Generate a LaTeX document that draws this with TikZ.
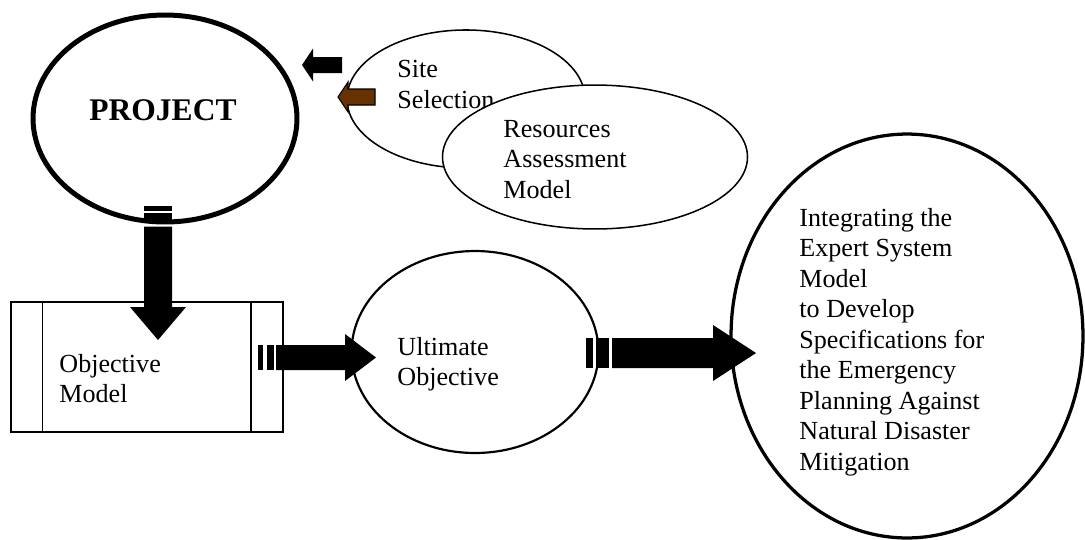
\documentclass[tikz,border=0pt]{standalone}
\usepackage{fontspec}
\setmainfont{Liberation Serif}
\usetikzlibrary{shapes.geometric}
\definecolor{brownarrow}{HTML}{663300}

\begin{document}
\begin{tikzpicture}
[x=0.46pt,y=-0.46pt,
 oval/.style={draw=black,ellipse,inner sep=0pt,fill=white},
 lbl/.style={anchor=north west,align=left,inner sep=0pt,font=\fontsize{12}{14}\selectfont},
 blk/.style={fill=black},
 brn/.style={fill=brownarrow,draw=black,line width=0.5pt}]
\useasboundingbox (0,0) rectangle (1085,539);

% project
\node[oval,line width=2.3pt,minimum width=121.4pt,minimum height=95.2pt] (proj) at (165,118.5) {};
\node[anchor=base,inner sep=0pt,font=\fontsize{14.5}{17}\selectfont\bfseries] (projtxt) at (163,120) {PROJECT};

% site and resources
\node[oval,line width=0.7pt,minimum width=109.5pt,minimum height=63.5pt] (site) at (466,99) {};
\node[lbl] (sitetxt) at (397,60) {Site\\Selection};
\node[oval,line width=0.7pt,minimum width=140.3pt,minimum height=66.2pt] (res) at (595,157) {};
\node[lbl] (restxt) at (503,120) {Resources\\Assessment\\Model};

\coordinate (selTip) at (302,65);
\coordinate (resTip) at (338,97);
\fill[blk] (selTip) -- ++(11,-16.5) -- ++(0,8.5) -- ++(29,0) -- ++(0,16) -- ++(-29,0) -- ++(0,8.5) -- cycle;
\filldraw[brn] (resTip) -- ++(10,-15) -- ++(0,7) -- ++(27,0) -- ++(0,16) -- ++(-27,0) -- ++(0,7) -- cycle;

% objective model
\node[draw=black,line width=0.7pt,inner sep=0pt,minimum width=125.1pt,minimum height=59.8pt] (objbox) at (147,367) {};
\draw[line width=0.7pt] (objbox.north west) ++(32,0) -- ++(0,130);
\draw[line width=0.7pt] (objbox.north east) ++(-33,0) -- ++(0,130);
\node[lbl] (objtxt) at (59,354) {Objective\\Model};

\coordinate (pjOut) at (158,205.5);
\coordinate (dnTip) at (158,340);
\fill[blk] (pjOut) ++(-14,0) rectangle ++(28,5.5);
\fill[blk] (pjOut) ++(-14,7.5) rectangle ++(28,8.5);
\fill[blk] (dnTip) -- ++(-28,-33) -- ++(14,0) -- ++(0,-80.5) -- ++(28,0) -- ++(0,80.5) -- ++(14,0) -- cycle;

% ultimate objective
\node[oval,line width=1pt,minimum width=113.6pt,minimum height=92.9pt] (ult) at (475,352) {};
\node[lbl] (ulttxt) at (397,337) {Ultimate\\Objective};

\coordinate (objOut) at (258,357.5);
\coordinate (ultIn) at (376,357.5);
\fill[blk] (objOut) ++(0,-12.5) rectangle ++(5,25);
\fill[blk] (objOut) ++(9,-12.5) rectangle ++(7,25);
\fill[blk] (ultIn) -- ++(-31,-23.5) -- ++(0,11) -- ++(-69,0) -- ++(0,25) -- ++(69,0) -- ++(0,11) -- cycle;

% integrating
\node[oval,line width=1.5pt,minimum width=161.9pt,minimum height=185.8pt] (integ) at (907,336) {};
\node[lbl] (integtxt) at (799,208) {Integrating the\\Expert System\\Model\\to Develop\\Specifications for\\the Emergency\\Planning Against\\Natural Disaster\\Mitigation};

\coordinate (ultOut) at (586,353);
\coordinate (intIn) at (756,353);
\fill[blk] (ultOut) ++(0,-15) rectangle ++(7,30);
\fill[blk] (ultOut) ++(10,-15) rectangle ++(13,30);
\fill[blk] (intIn) -- ++(-43,-28) -- ++(0,13) -- ++(-101,0) -- ++(0,30) -- ++(101,0) -- ++(0,13) -- cycle;

\end{tikzpicture}
\end{document}
